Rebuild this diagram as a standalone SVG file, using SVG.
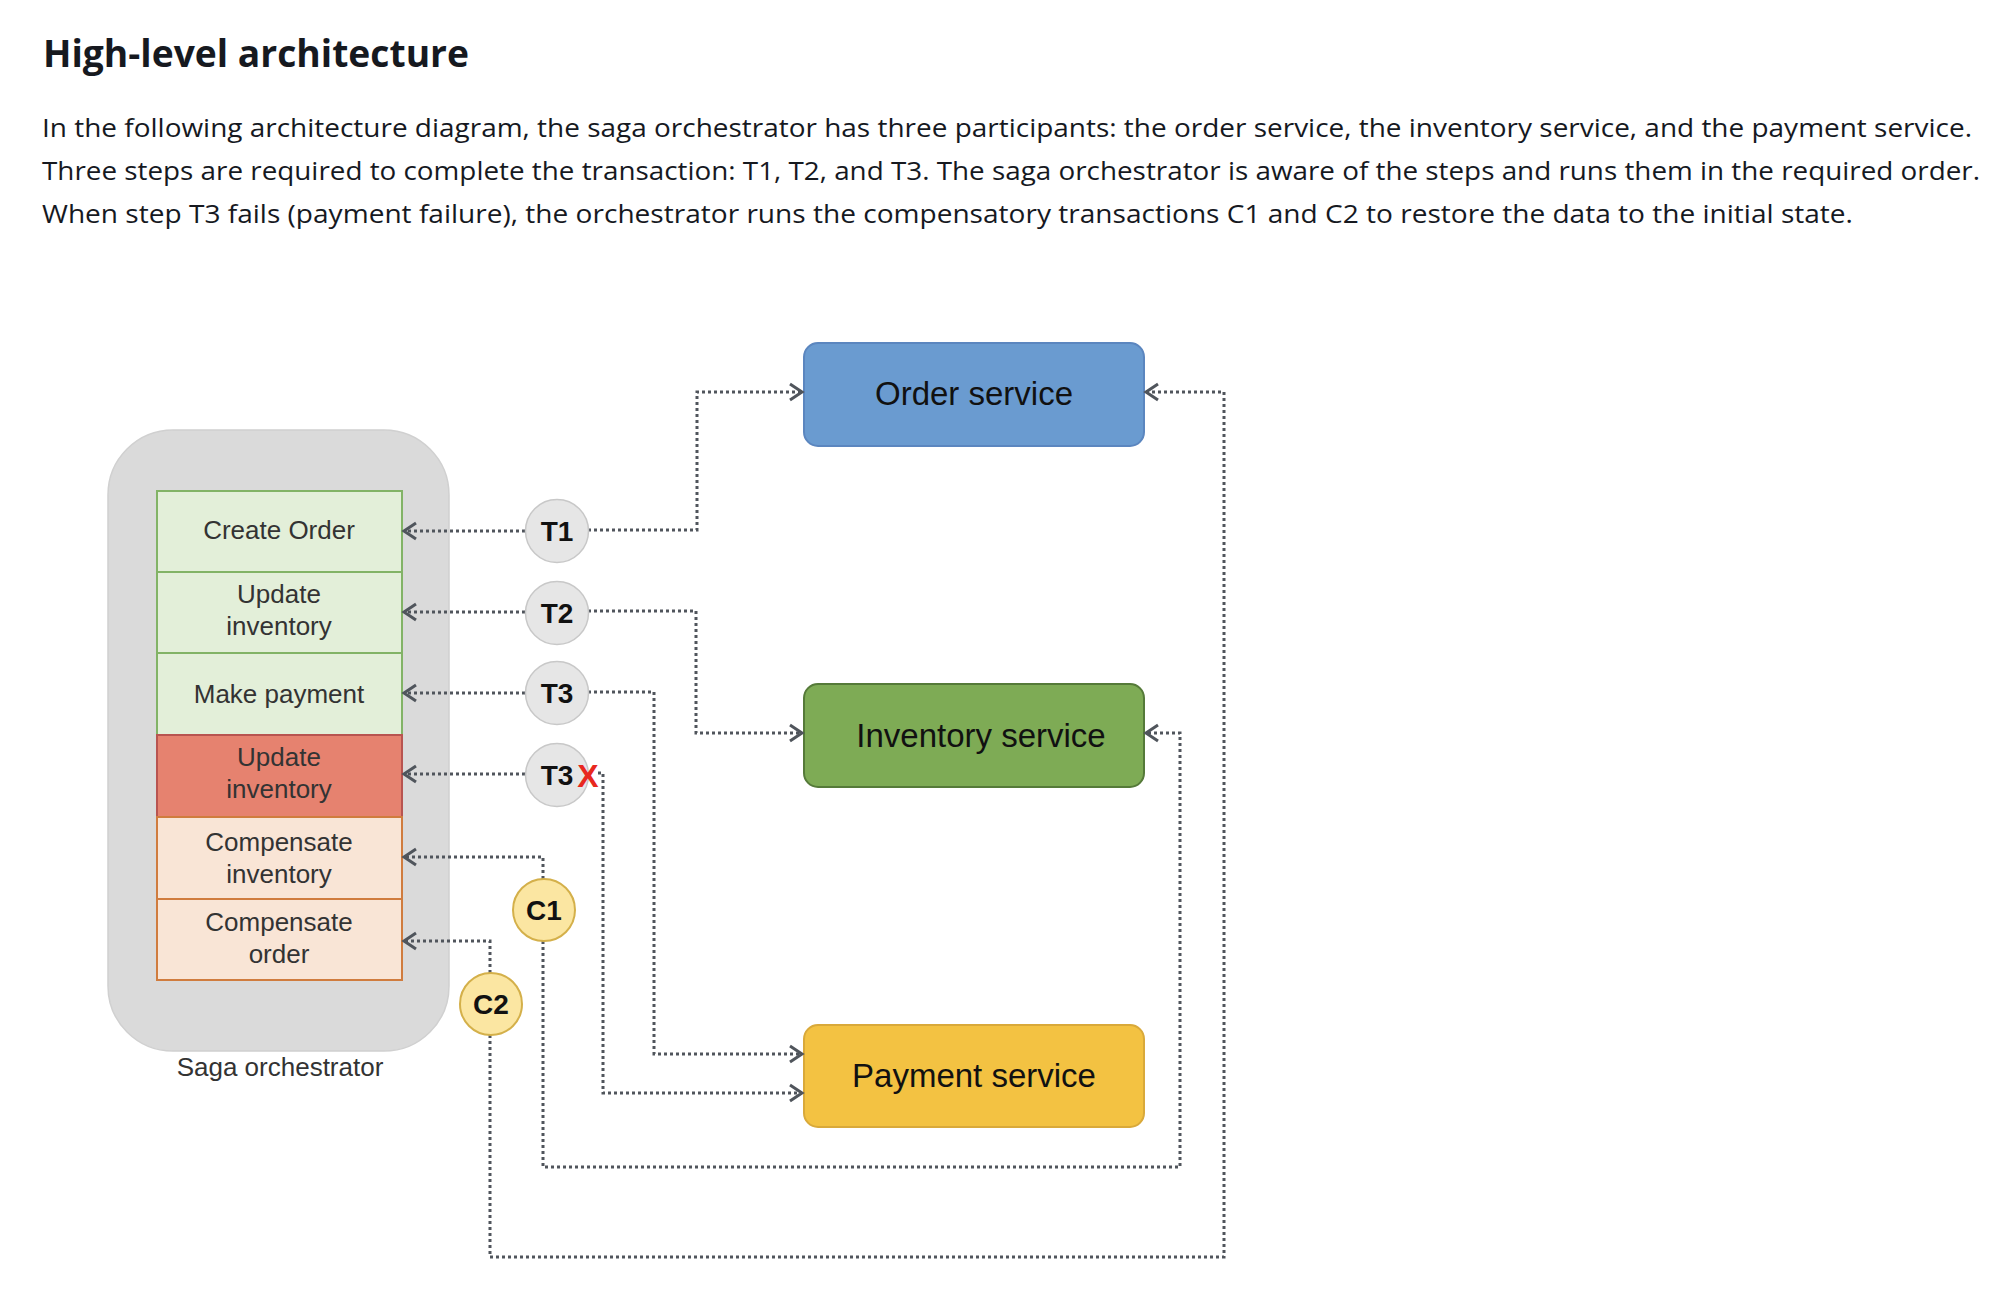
<svg xmlns="http://www.w3.org/2000/svg" width="1996" height="1300" viewBox="0 0 1996 1300">
<style>
.title{font-family:"Open Sans","Noto Sans",sans-serif;font-weight:700;font-size:38px;fill:#16191f}
.para{font-family:"Open Sans","Noto Sans",sans-serif;font-size:26px;fill:#16191f}
.lbl{font-family:"Liberation Sans",Arial,sans-serif;font-size:26px;fill:#333333;text-anchor:middle}
.svc{font-family:"Liberation Sans",Arial,sans-serif;font-size:33px;fill:#111111;text-anchor:middle}
.step{font-family:"Liberation Sans",Arial,sans-serif;font-size:28px;font-weight:700;fill:#111111;text-anchor:middle}
.ok{fill:#e3efd9;stroke:#82b366;stroke-width:2}
.fail{fill:#e6826f;stroke:#b85450;stroke-width:2}
.comp{fill:#f9e5d6;stroke:#d07c3e;stroke-width:2}
.tc{fill:#e6e6e6;stroke:#c8c8c8;stroke-width:1.5}
.cc{fill:#fbe6a2;stroke:#d4b04a;stroke-width:2}
.conn path{fill:none;stroke:#50555c;stroke-width:3;stroke-dasharray:3 3;marker-end:url(#arr)}
</style>
<defs>
<marker id="arr" markerUnits="userSpaceOnUse" markerWidth="24" markerHeight="24" viewBox="-16 -12 20 24" refX="0" refY="0" orient="auto">
<path d="M-12,-8 L0,0 L-12,8" fill="none" stroke="#50555c" stroke-width="3" stroke-linejoin="miter"/>
</marker>
</defs>
<rect width="1996" height="1300" fill="#ffffff"/>
<g id="heading">
<text class="title" x="43" y="67" textLength="426" lengthAdjust="spacingAndGlyphs">High-level architecture</text>
<text class="para" x="42" y="137" textLength="1930" lengthAdjust="spacingAndGlyphs">In the following architecture diagram, the saga orchestrator has three participants: the order service, the inventory service, and the payment service.</text>
<text class="para" x="42" y="180" textLength="1938" lengthAdjust="spacingAndGlyphs">Three steps are required to complete the transaction: T1, T2, and T3. The saga orchestrator is aware of the steps and runs them in the required order.</text>
<text class="para" x="42" y="223" textLength="1811" lengthAdjust="spacingAndGlyphs">When step T3 fails (payment failure), the orchestrator runs the compensatory transactions C1 and C2 to restore the data to the initial state.</text>
</g>
<g id="saga-orchestrator">
<rect x="108" y="430" width="341" height="621" rx="65" fill="#dadada" stroke="#d0d0d0" stroke-width="1.5"/>
<text class="lbl" x="280" y="1076">Saga orchestrator</text>
</g>
<g id="create-order"><rect class="ok" x="157" y="491" width="245" height="81"/><text class="lbl" x="279" y="539">Create Order</text></g>
<g id="update-inventory"><rect class="ok" x="157" y="572" width="245" height="81"/><text class="lbl" x="279" y="603">Update</text><text class="lbl" x="279" y="635">inventory</text></g>
<g id="make-payment"><rect class="ok" x="157" y="653" width="245" height="82"/><text class="lbl" x="279" y="703">Make  payment</text></g>
<g id="update-inventory-failed"><rect class="fail" x="157" y="735" width="245" height="82"/><text class="lbl" x="279" y="766">Update</text><text class="lbl" x="279" y="798">inventory</text></g>
<g id="compensate-inventory"><rect class="comp" x="157" y="817" width="245" height="82"/><text class="lbl" x="279" y="851">Compensate</text><text class="lbl" x="279" y="883">inventory</text></g>
<g id="compensate-order"><rect class="comp" x="157" y="899" width="245" height="81"/><text class="lbl" x="279" y="931">Compensate</text><text class="lbl" x="279" y="963">order</text></g>
<g id="order-service"><rect x="804" y="343" width="340" height="103" rx="14" fill="#6a9bd0" stroke="#5b86bf" stroke-width="2"/><text class="svc" x="974" y="405">Order service</text></g>
<g id="inventory-service"><rect x="804" y="684" width="340" height="103" rx="14" fill="#7eab55" stroke="#557a39" stroke-width="2"/><text class="svc" x="981" y="747">Inventory service</text></g>
<g id="payment-service"><rect x="804" y="1025" width="340" height="102" rx="14" fill="#f3c242" stroke="#d9a93a" stroke-width="2"/><text class="svc" x="974" y="1087">Payment service</text></g>
<g id="connectors" class="conn">
<path d="M525,531 L404,531"/>
<path d="M525,612 L404,612"/>
<path d="M525,693 L404,693"/>
<path d="M525,774 L404,774"/>
<path d="M543,879 L543,857 L404,857"/>
<path d="M490,973 L490,941 L404,941"/>
<path d="M588,530 L697,530 L697,392 L802,392"/>
<path d="M588,611 L696,611 L696,733 L802,733"/>
<path d="M588,692 L654,692 L654,1054 L802,1054"/>
<path d="M598,773 L603,773 L603,1093 L802,1093"/>
<path d="M543,941 L543,1167 L1180,1167 L1180,733 L1146,733"/>
<path d="M490,1035 L490,1257 L1224,1257 L1224,392 L1146,392"/>
</g>
<g id="t1"><circle class="tc" cx="557" cy="531" r="31.5"/><text class="step" x="557" y="541">T1</text></g>
<g id="t2"><circle class="tc" cx="557" cy="613" r="31.5"/><text class="step" x="557" y="623">T2</text></g>
<g id="t3"><circle class="tc" cx="557" cy="693" r="31.5"/><text class="step" x="557" y="703">T3</text></g>
<g id="t3-failed"><circle class="tc" cx="557" cy="775" r="31.5"/><text class="step" x="557" y="785">T3</text><text x="588" y="787" font-family="Liberation Sans, Arial, sans-serif" font-size="32" font-weight="700" fill="#e8281e" text-anchor="middle">X</text></g>
<g id="c1"><circle class="cc" cx="544" cy="910" r="31"/><text class="step" x="544" y="920">C1</text></g>
<g id="c2"><circle class="cc" cx="491" cy="1004" r="31"/><text class="step" x="491" y="1014">C2</text></g>
</svg>
